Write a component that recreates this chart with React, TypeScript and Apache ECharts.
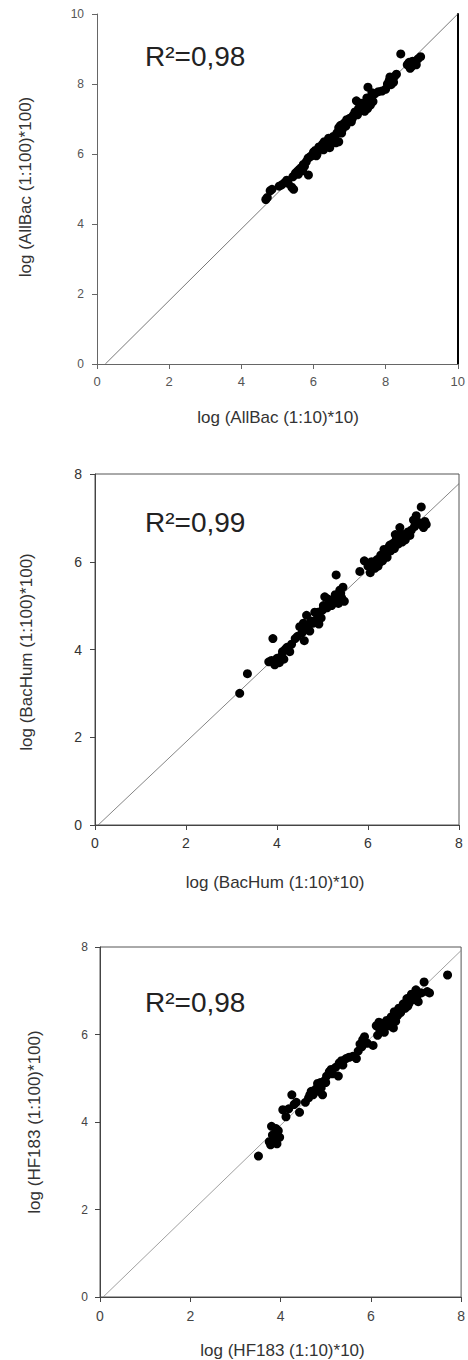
import React, { useEffect, useRef } from "react";
import * as echarts from "echarts";

const FONT = '"Liberation Sans", Arial, Helvetica, sans-serif';

// ---- Panel 1: AllBac ----
const ALLBAC_TICKS = [0, 2, 4, 6, 8, 10];
const ALLBAC_POINTS = [
  [4.68, 4.7], [4.72, 4.76], [4.8, 4.95], [4.85, 4.99], [5.05, 5.08], [5.12, 5.12], [5.2, 5.18],
  [5.26, 5.25], [5.3, 5.16], [5.4, 5.05], [5.45, 4.99], [5.43, 5.35], [5.5, 5.45], [5.55, 5.5],
  [5.6, 5.55], [5.65, 5.6], [5.7, 5.52], [5.75, 5.65], [5.8, 5.78], [5.86, 5.4], [5.85, 5.88],
  [5.9, 5.92], [5.95, 5.95], [6.0, 6.05], [6.05, 6.1], [6.1, 6.0], [6.15, 6.2], [6.2, 6.15],
  [6.25, 6.28], [6.3, 6.35], [6.35, 6.22], [6.4, 6.3], [6.45, 6.18], [6.5, 6.4], [6.55, 6.5],
  [6.6, 6.45], [6.65, 6.6], [6.7, 6.35], [6.7, 6.75], [6.75, 6.82], [6.8, 6.7], [6.85, 6.88],
  [6.9, 6.8], [6.95, 6.95], [7.0, 7.02], [7.05, 6.92], [7.1, 7.1], [7.15, 7.2], [7.19, 7.52],
  [7.25, 7.3], [7.3, 7.25], [7.35, 7.4], [7.4, 7.35], [7.45, 7.48], [7.5, 7.3], [7.51, 7.91],
  [7.55, 7.55], [7.6, 7.62], [7.65, 7.5], [7.7, 7.72], [7.8, 7.78], [7.9, 7.8], [8.0, 7.85],
  [8.05, 8.0], [8.1, 8.1], [8.15, 7.98], [8.2, 8.18], [8.25, 8.22], [8.3, 8.28], [8.42, 8.86],
  [8.6, 8.55], [8.65, 8.62], [8.72, 8.5], [8.75, 8.65], [8.85, 8.55], [8.9, 8.72], [8.97, 8.78],
  [5.58, 5.42], [5.72, 5.7], [6.08, 5.95], [6.28, 6.12], [6.42, 6.45], [6.62, 6.32], [6.78, 6.6],
  [6.92, 6.98], [7.08, 7.02], [7.22, 7.12], [7.32, 7.45], [7.42, 7.22], [7.48, 7.6], [7.58, 7.4],
  [7.62, 7.75], [8.12, 8.2], [8.22, 8.05], [8.68, 8.45], [8.8, 8.62],
];
const ALLBAC_LINE = [[0.23, 0], [10, 10]];

// ---- Panel 2: BacHum ----
const BACHUM_TICKS = [0, 2, 4, 6, 8];
const BACHUM_POINTS = [
  [3.18, 3.0], [3.35, 3.45], [3.82, 3.72], [3.88, 3.75], [3.91, 4.25], [3.95, 3.65], [4.0, 3.8],
  [4.05, 3.7], [4.1, 3.85], [4.15, 3.78], [4.18, 4.0], [4.22, 4.05], [4.28, 3.95], [4.32, 4.12],
  [4.4, 4.25], [4.5, 4.52], [4.55, 4.38], [4.6, 4.2], [4.62, 4.45], [4.65, 4.78], [4.7, 4.55],
  [4.75, 4.65], [4.8, 4.6], [4.83, 4.85], [4.88, 4.7], [4.92, 4.58], [4.97, 4.72], [5.0, 4.9],
  [5.05, 5.2], [5.1, 4.95], [5.15, 5.05], [5.2, 5.0], [5.25, 5.15], [5.3, 5.7], [5.35, 5.05],
  [5.38, 5.35], [5.42, 5.18], [5.45, 5.42], [5.48, 5.1], [5.82, 5.78], [5.92, 6.02], [6.0, 5.9],
  [6.05, 5.75], [6.1, 5.95], [6.15, 5.85], [6.2, 6.05], [6.25, 5.98], [6.28, 6.15], [6.32, 6.02],
  [6.38, 6.2], [6.42, 6.1], [6.45, 6.32], [6.5, 6.25], [6.55, 6.42], [6.58, 6.3], [6.62, 6.5],
  [6.66, 6.4], [6.7, 6.78], [6.72, 6.55], [6.78, 6.62], [6.82, 6.5], [6.88, 6.68], [6.95, 6.72],
  [7.02, 6.8], [7.06, 7.05], [7.1, 6.9], [7.17, 7.25], [7.2, 6.85], [7.25, 6.92], [7.22, 6.78],
  [4.12, 3.95], [4.45, 4.3], [4.58, 4.6], [4.72, 4.42], [4.9, 4.85], [5.02, 5.0], [5.12, 5.15],
  [5.28, 5.25], [5.4, 5.28], [6.08, 6.0], [6.22, 5.9], [6.35, 6.28], [6.48, 6.38], [6.6, 6.62],
  [6.68, 6.6], [6.75, 6.45], [6.92, 6.6], [7.0, 6.95], [7.15, 6.85], [7.28, 6.85],
];
const BACHUM_LINE = [[0.07, 0], [8, 7.78]];

// ---- Panel 3: HF183 ----
const HF183_TICKS = [0, 2, 4, 6, 8];
const HF183_POINTS = [
  [3.51, 3.22], [3.75, 3.55], [3.78, 3.48], [3.8, 3.9], [3.85, 3.6], [3.88, 3.75], [3.92, 3.5],
  [3.95, 3.8], [3.98, 3.65], [4.05, 4.28], [4.12, 4.12], [4.18, 4.3], [4.25, 4.62], [4.3, 4.4],
  [4.35, 4.45], [4.42, 4.22], [4.55, 4.45], [4.62, 4.55], [4.68, 4.7], [4.72, 4.62], [4.78, 4.75],
  [4.82, 4.88], [4.85, 4.7], [4.9, 4.78], [4.93, 4.62], [4.98, 4.95], [5.02, 5.05], [5.08, 5.15],
  [5.15, 5.1], [5.22, 5.25], [5.28, 5.05], [5.3, 5.35], [5.38, 5.3], [5.45, 5.45], [5.52, 5.48],
  [5.6, 5.5], [5.68, 5.45], [5.72, 5.62], [5.76, 5.78], [5.82, 5.88], [5.86, 5.95], [5.92, 5.8],
  [6.05, 5.75], [6.12, 6.2], [6.15, 5.98], [6.2, 6.1], [6.25, 6.25], [6.3, 6.05], [6.35, 6.32],
  [6.4, 6.2], [6.45, 6.4], [6.5, 6.15], [6.52, 6.52], [6.58, 6.42], [6.62, 6.6], [6.66, 6.5],
  [6.72, 6.7], [6.76, 6.6], [6.8, 6.82], [6.85, 6.72], [6.9, 6.92], [6.95, 6.8], [7.0, 7.02],
  [7.05, 6.75], [7.08, 6.95], [7.18, 7.2], [7.25, 6.98], [7.3, 6.95], [7.7, 7.36],
  [3.82, 3.7], [3.9, 3.85], [4.65, 4.62], [4.88, 4.9], [5.0, 4.9], [5.12, 5.2], [5.35, 5.4],
  [5.8, 5.72], [6.18, 6.28], [6.28, 6.18], [6.42, 6.3], [6.55, 6.3], [6.6, 6.45], [6.7, 6.58],
  [6.82, 6.65], [6.92, 6.82], [7.02, 6.88], [7.12, 6.95],
];
const HF183_LINE = [[0.07, 0], [8, 7.92]];

const R2_TEXTS = ["R²=0,98", "R²=0,99", "R²=0,98"];
const X_TITLES = ["log (AllBac (1:10)*10)", "log (BacHum (1:10)*10)", "log (HF183 (1:10)*10)"];
const Y_TITLES = ["log (AllBac (1:100)*100)", "log (BacHum (1:100)*100)", "log (HF183 (1:100)*100)"];

function valueAxis(
  gridIndex: number,
  ticks: number[],
  labelSize: number,
  labelColor: string,
  lineColor: string,
  margin: number
) {
  return {
    type: "value",
    gridIndex,
    min: ticks[0],
    max: ticks[ticks.length - 1],
    interval: ticks[1] - ticks[0],
    axisLine: { show: true, onZero: false, lineStyle: { color: lineColor, width: 1 } },
    axisTick: { show: true, inside: false, length: 5, lineStyle: { color: lineColor, width: 1 } },
    axisLabel: {
      show: true,
      fontSize: labelSize,
      color: labelColor,
      fontFamily: FONT,
      margin,
    },
    splitLine: { show: false },
  };
}

export default function App() {
  const ref = useRef<HTMLDivElement>(null);

  useEffect(() => {
    if (!ref.current) return;
    const chart = echarts.init(ref.current, undefined, { renderer: "svg" });

    const grids = [
      { left: 97, top: 14, width: 364, height: 350, show: false },
      { left: 95, top: 474, width: 364, height: 351, show: true, borderColor: "#555", borderWidth: 1 },
      { left: 100, top: 947, width: 365, height: 350, show: true, borderColor: "#555", borderWidth: 1 },
    ];

    const xAxis = [
      valueAxis(0, ALLBAC_TICKS, 13, "#555", "#666", 11),
      valueAxis(1, BACHUM_TICKS, 14, "#333", "#444", 11),
      valueAxis(2, HF183_TICKS, 14, "#444", "#444", 12),
    ];
    const yAxis = [
      valueAxis(0, ALLBAC_TICKS, 12, "#555", "#666", 13),
      {
        type: "value",
        gridIndex: 0,
        position: "right",
        min: ALLBAC_TICKS[0],
        max: ALLBAC_TICKS[ALLBAC_TICKS.length - 1],
        interval: ALLBAC_TICKS[1] - ALLBAC_TICKS[0],
        axisLine: { show: true, onZero: false, lineStyle: { color: "#000", width: 2 } },
        axisTick: { show: false },
        axisLabel: { show: false },
        splitLine: { show: false },
      },
      valueAxis(1, BACHUM_TICKS, 14, "#333", "#444", 13),
      valueAxis(2, HF183_TICKS, 12, "#444", "#444", 12),
    ];

    const panels = [
      { pts: ALLBAC_POINTS, line: ALLBAC_LINE, xi: 0, yi: 0, lc: "#555" },
      { pts: BACHUM_POINTS, line: BACHUM_LINE, xi: 1, yi: 2, lc: "#666" },
      { pts: HF183_POINTS, line: HF183_LINE, xi: 2, yi: 3, lc: "#888" },
    ];

    const series: any[] = [];
    panels.forEach((p) => {
      series.push({
        type: "line",
        xAxisIndex: p.xi,
        yAxisIndex: p.yi,
        data: p.line,
        symbol: "none",
        lineStyle: { color: p.lc, width: 0.8 },
        z: 2,
        silent: true,
      });
      series.push({
        type: "scatter",
        xAxisIndex: p.xi,
        yAxisIndex: p.yi,
        data: p.pts,
        symbol: "circle",
        symbolSize: 9,
        itemStyle: { color: "#000", opacity: 1 },
        z: 3,
      });
    });

    const r2Pos = [
      [145, 56.5],
      [145, 522.5],
      [145, 1002.5],
    ];
    const xTitlePos = [
      [278, 417],
      [275, 882],
      [282.5, 1350],
    ];
    const yTitlePos = [
      [25.5, 187],
      [26.5, 652],
      [34, 1122],
    ];

    const graphic: any[] = [];
    for (let i = 0; i < 3; i++) {
      graphic.push({
        type: "text",
        x: r2Pos[i][0],
        y: r2Pos[i][1],
        style: {
          text: R2_TEXTS[i],
          font: `28px ${FONT}`,
          fill: "#222",
          textAlign: "left",
          textVerticalAlign: "middle",
        },
      });
      graphic.push({
        type: "text",
        x: xTitlePos[i][0],
        y: xTitlePos[i][1],
        style: {
          text: X_TITLES[i],
          font: `17px ${FONT}`,
          fill: "#333",
          textAlign: "center",
          textVerticalAlign: "middle",
        },
      });
      graphic.push({
        type: "text",
        x: yTitlePos[i][0],
        y: yTitlePos[i][1],
        rotation: Math.PI / 2,
        style: {
          text: Y_TITLES[i],
          font: `17px ${FONT}`,
          fill: "#333",
          textAlign: "center",
          textVerticalAlign: "middle",
        },
      });
    }

    chart.setOption({
      animation: false,
      backgroundColor: "#fff",
      grid: grids,
      xAxis,
      yAxis,
      series,
      graphic,
    });

    return () => chart.dispose();
  }, []);

  return (
    <div
      ref={ref}
      style={{ position: "absolute", left: 0, top: 0, width: 468, height: 1360 }}
    />
  );
}
